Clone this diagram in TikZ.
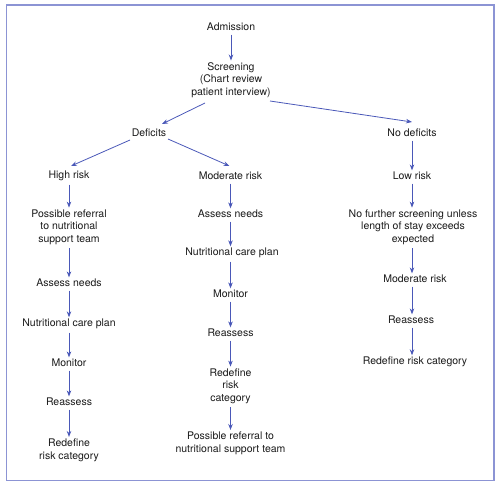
\documentclass[tikz,border=0pt]{standalone}
\usepackage{fontspec}
\setmainfont{TeX Gyre Heros}
\usetikzlibrary{arrows.meta,calc}
\definecolor{arr}{HTML}{4A58B8}
\definecolor{frm}{HTML}{8C94D4}
\definecolor{txt}{HTML}{1A1A1A}
\begin{document}
\begin{tikzpicture}[x=1pt,y=-1pt,
  lbl/.style={font=\fontsize{10.5}{12.7}\selectfont, text=txt, align=center, inner sep=1.5pt},
  link/.style={draw=arr, line width=0.8pt, -{Stealth[length=6pt,width=4.5pt]}},
  flow/.style={link, shorten <=2pt}]
\useasboundingbox (0,0) rectangle (500,484);
\draw[frm, line width=1.5pt] (6.5,5) rectangle (494,480.5);

% top
\node[lbl] (adm) at (231,27) {Admission};
\node[lbl] (scr) at (231,80) {Screening\\(Chart review\\patient interview)};
\node[lbl] (def) at (149,133) {Deficits};
\node[lbl] (nodef) at (412,133) {No deficits};

% second level
\node[lbl] (hr) at (69,176) {High risk};
\node[lbl] (mr) at (230.5,176) {Moderate risk};
\node[lbl] (lr) at (412,176) {Low risk};

% left column
\node[lbl] (ref1) at (69,227) {Possible referral\\to nutritional\\support team};
\node[lbl] (an1) at (69,283) {Assess needs};
\node[lbl] (ncp1) at (69,324) {Nutritional care plan};
\node[lbl] (mon1) at (69,363) {Monitor};
\node[lbl] (rea1) at (69,402) {Reassess};
\node[lbl] (red1) at (69,450) {Redefine\\risk category};

% middle column
\node[lbl] (an2) at (230.5,214) {Assess needs};
\node[lbl] (ncp2) at (232,253) {Nutritional care plan};
\node[lbl] (mon2) at (230.5,294) {Monitor};
\node[lbl] (rea2) at (230.5,333) {Reassess};
\node[lbl] (red2) at (230.5,386) {Redefine\\risk\\category};
\node[lbl] (ref2) at (230.5,443) {Possible referral to\\nutritional support team};

% right column
\node[lbl] (nf) at (413,227) {No further screening unless\\length of stay exceeds\\expected};
\node[lbl] (mr3) at (415,279) {Moderate risk};
\node[lbl] (rea3) at (411,320) {Reassess};
\node[lbl] (red3) at (415,362) {Redefine risk category};

% connectors
\draw[flow] (adm) -- (scr);
\draw[link] ($(scr.center)+(-26,23)$) -- ($(def.center)+(13,-9)$);
\draw[link] ($(scr.center)+(39,21)$) -- ($(nodef.center)+(0,-11)$);
\draw[link] ($(def.center)+(-19,7)$) -- ($(hr.center)+(2,-10)$);
\draw[link] ($(def.center)+(19,6)$) -- ($(mr.center)+(-1,-10)$);
\draw[flow] (nodef) -- (lr);

\draw[flow] (hr) -- (ref1);
\draw[flow] (ref1) -- (an1);
\draw[flow] (an1) -- (ncp1);
\draw[flow] (ncp1) -- (mon1);
\draw[flow] (mon1) -- (rea1);
\draw[flow] (rea1) -- (red1);

\draw[flow] (mr) -- (an2);
\draw[flow] (an2.south) -- (an2.south |- ncp2.north);
\draw[flow] (ncp2.south -| an2.south) -- (mon2);
\draw[flow] (mon2) -- (rea2);
\draw[flow] (rea2) -- (red2);
\draw[flow] (red2) -- (ref2);

\draw[flow] (lr) -- (lr |- nf.north);
\draw[flow] (nf.south -| lr.south) -- (lr |- mr3.north);
\draw[flow] (mr3.south -| lr.south) -- (lr |- rea3.north);
\draw[flow] (rea3.south -| lr.south) -- (lr |- red3.north);
\end{tikzpicture}
\end{document}
